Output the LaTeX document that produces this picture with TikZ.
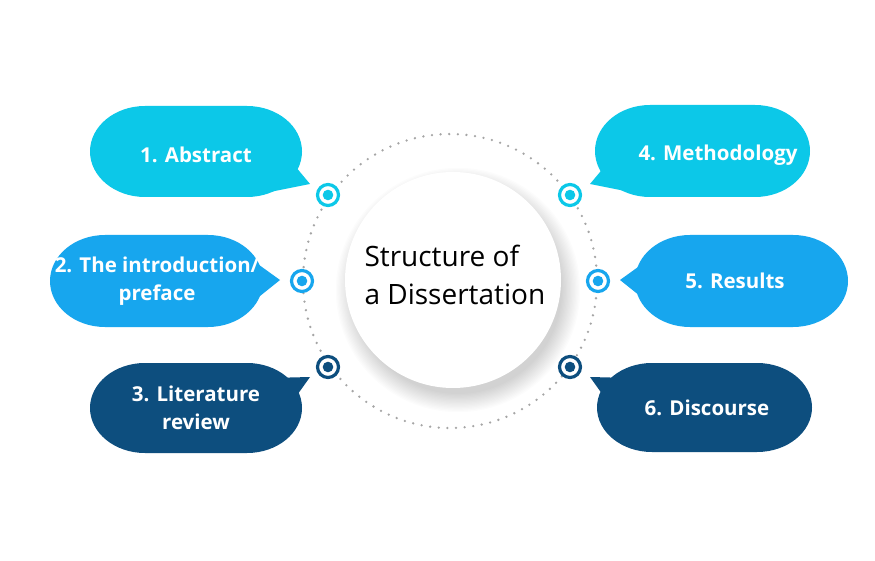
\documentclass[tikz,border=0pt]{standalone}
\usepackage{fontspec}
\setmainfont{Open Sans}
\definecolor{cCyan}{HTML}{0CC8E8}
\definecolor{cBlue}{HTML}{17A6EE}
\definecolor{cNavy}{HTML}{0D4E7E}
\definecolor{cDot}{HTML}{A5A5A5}
\tikzset{
  btext/.style={text=white, font=\bfseries\fontsize{20.5}{28}\selectfont, align=center},
  ttext/.style={text=black, font=\fontsize{28}{38}\selectfont, align=left, anchor=west},
}
% bubble body: x1 y1 x2 y2 colour
\newcommand\dbubble[5]{%
  \fill[#5] (#1+55,#2) -- (#3-55,#2)
    arc[start angle=-90,end angle=90,x radius=55,y radius={(#4-#2)/2}]
    -- (#1+55,#4)
    arc[start angle=90,end angle=270,x radius=55,y radius={(#4-#2)/2}] -- cycle;}
% target marker
\newcommand\dmarker[3]{%
  \node[circle, draw=#3, line width=3.2pt, minimum size=21pt, inner sep=0pt, fill=white] (#1) at #2 {};
  \fill[#3] (#1.center) circle (5.3pt);}
\begin{document}
\begin{tikzpicture}[x=1pt,y=-1pt]
\useasboundingbox (0,0) rectangle (875,561);
\fill[white] (0,0) rectangle (875,561);
% dotted ring
\draw[cDot, line width=2.6pt, line cap=round, dash pattern=on 0pt off 8.65pt] (450,281) circle (147);
% shadow of centre disc
\foreach \i in {0,...,14}{
  \fill[black, opacity=0.011] (458,290) circle ({104+\i*1.3});
}
\node[circle, fill=white, minimum size=216pt, inner sep=0pt] (hub) at (453,280) {};
\node[ttext] (title) at (361,275) {Structure of\\a Dissertation};
% bubbles
\dbubble{90}{106}{302}{197}{cCyan}
\fill[cCyan] (290,160) -- (310,184) -- (270,192) -- cycle;
\node[btext] (b1) at (196,155) {1. Abstract};
\dbubble{50}{235}{263}{327}{cBlue}
\fill[cBlue] (255,262) -- (280,280) -- (255,300) -- cycle;
\node[btext] (b2) at (157,281) {2. The introduction/\\preface};
\dbubble{90}{363}{302}{453}{cNavy}
\fill[cNavy] (270,378) -- (310,377) -- (290,405) -- cycle;
\node[btext] (b3) at (196,408) {3. Literature\\review};
\dbubble{595}{105}{810}{197}{cCyan}
\fill[cCyan] (610,160) -- (590,184) -- (630,192) -- cycle;
\node[btext] (b4) at (718,155) {4. Methodology};
\dbubble{635}{235}{848}{327}{cBlue}
\fill[cBlue] (645,262) -- (620,280) -- (645,300) -- cycle;
\node[btext] (b5) at (735,281) {5. Results};
\dbubble{597}{363}{812}{452}{cNavy}
\fill[cNavy] (630,378) -- (590,377) -- (610,405) -- cycle;
\node[btext] (b6) at (707,408) {6. Discourse};
% markers
\dmarker{m1}{(328,195)}{cCyan}
\dmarker{m2}{(302,281)}{cBlue}
\dmarker{m3}{(328,367)}{cNavy}
\dmarker{m4}{(570,195)}{cCyan}
\dmarker{m5}{(598,281)}{cBlue}
\dmarker{m6}{(570,367)}{cNavy}
\end{tikzpicture}
\end{document}
